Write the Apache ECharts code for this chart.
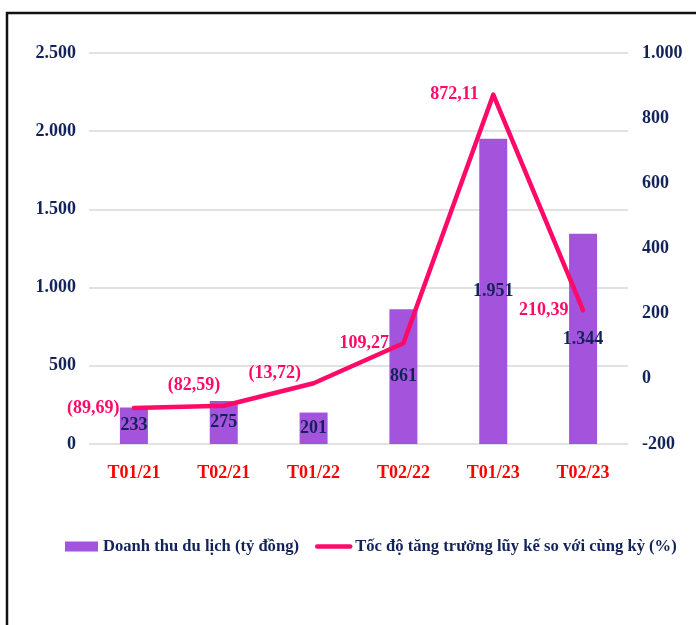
<!DOCTYPE html>
<html>
<head>
<meta charset="utf-8">
<script src="https://cdn.jsdelivr.net/npm/echarts@6/dist/echarts.min.js"></script>
<style>
  html, body { margin: 0; padding: 0; background: #fff; }
  #chart { width: 696px; height: 625px; }
</style>
</head>
<body>
<div id="chart"></div>
<script>
// du lieu
var categories = ['T01/21', 'T02/21', 'T01/22', 'T02/22', 'T01/23', 'T02/23'];
var revenue = [233, 275, 201, 861, 1951, 1344];
var growth = [-89.69, -82.59, -13.72, 109.27, 872.11, 210.39];
var seriesNames = ['Doanh thu du lịch (tỷ đồng)', 'Tốc độ tăng trưởng lũy kế so với cùng kỳ (%)'];

var FONT = '"Liberation Serif", "Times New Roman", serif';
var NAVY = '#13235a';
var BAR = '#a453dc';
var LINE = '#ff0a68';

// 2500 -> 2.500
function thousands(v) {
    return String(v).replace(/\B(?=(\d{3})+(?!\d))/g, '.');
}
function pct(v) {
    var s = Math.abs(v).toFixed(2).replace('.', ',');
    return v < 0 ? '(' + s + ')' : s;
}

var chart = echarts.init(document.getElementById('chart'));

// nhan cua duong, chinh vi tri tung diem
var lineData = growth.map(function (v, i) {
    var item = { value: v };
    if (i === 1) item.label = { distance: 3, offset: [0, -20] };
    if (i === 2) item.label = { distance: 12, offset: [0, -10] };
    return item;
});

chart.setOption({
    animation: false,
    textStyle: { fontFamily: FONT },
    graphic: [{
        type: 'rect',
        shape: { x: 7, y: 13, width: 800, height: 800 },
        style: { fill: 'none', stroke: '#111', lineWidth: 2.5 },
        silent: true
    }],
    grid: { left: 89, right: 68, top: 53, bottom: 181 },
    legend: {
        top: 533,
        left: 60,
        width: 660,
        itemWidth: 33,
        itemHeight: 10,
        itemGap: 16,
        textStyle: { fontFamily: FONT, fontWeight: 'bold', fontSize: 16.6, color: NAVY },
        data: [
            { name: seriesNames[0], icon: 'rect' },
            {
                name: seriesNames[1],
                itemStyle: { color: 'rgba(0,0,0,0)', borderWidth: 0 },
                lineStyle: { width: 4.5, cap: 'round' }
            }
        ]
    },
    xAxis: {
        type: 'category',
        data: categories,
        axisLine: { show: false },
        axisTick: { show: false },
        axisLabel: { margin: 20, color: '#ff0000', fontFamily: FONT, fontWeight: 'bold', fontSize: 18 }
    },
    yAxis: [{
        type: 'value',
        min: 0,
        max: 2500,
        interval: 500,
        axisLine: { show: false },
        axisTick: { show: false },
        axisLabel: {
            margin: 13,
            color: NAVY,
            fontFamily: FONT,
            fontWeight: 'bold',
            fontSize: 18,
            formatter: function (v) { return thousands(v); }
        },
        splitLine: { lineStyle: { color: '#d9d9d9', width: 1.5 } }
    }, {
        type: 'value',
        min: -200,
        max: 1000,
        interval: 200,
        axisLine: { show: false },
        axisTick: { show: false },
        axisLabel: {
            margin: 14,
            color: NAVY,
            fontFamily: FONT,
            fontWeight: 'bold',
            fontSize: 18,
            formatter: function (v) { return v < 0 ? '-' + thousands(-v) : thousands(v); }
        },
        splitLine: { show: false }
    }],
    series: [{
        name: seriesNames[0],
        type: 'bar',
        data: revenue,
        barWidth: 28,
        itemStyle: { color: BAR },
        label: {
            show: true,
            position: 'inside',
            color: NAVY,
            fontFamily: FONT,
            fontWeight: 'bold',
            fontSize: 18,
            formatter: function (p) { return thousands(p.value); }
        }
    }, {
        name: seriesNames[1],
        type: 'line',
        yAxisIndex: 1,
        data: lineData,
        symbol: 'circle',
        symbolSize: 1,
        lineStyle: { color: LINE, width: 4.5, cap: 'round', join: 'round' },
        itemStyle: { color: LINE },
        label: {
            show: true,
            position: 'left',
            distance: 14,
            color: LINE,
            fontFamily: FONT,
            fontWeight: 'bold',
            fontSize: 18,
            formatter: function (p) { return pct(p.value); }
        }
    }]
});
</script>
</body>
</html>
